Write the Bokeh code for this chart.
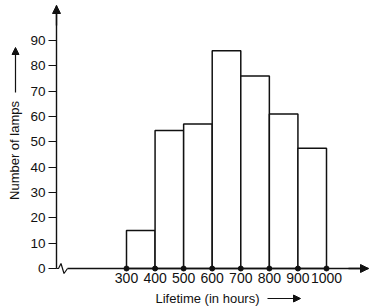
import math
from bokeh.plotting import figure
from bokeh.models import Arrow, NormalHead, Label, FixedTicker, Range1d
from bokeh.embed import file_html
from bokeh.resources import INLINE

# ---- data ----
bin_edges = [300, 400, 500, 600, 700, 800, 900, 1000]
lamp_counts = [15, 54.5, 57, 86, 76, 61, 47.5]
y_ticks = [0, 10, 20, 30, 40, 50, 60, 70, 80, 90]
x_ticks = [300, 400, 500, 600, 700, 800, 900, 1000]
x_title = "Lifetime (in hours)"
y_title = "Number of lamps"

# ---- layout constants (frame covers the whole canvas) ----
W, H = 378, 308
PXU_X = 200 / 700.0      # px per data unit along x
PXU_Y = 228 / 90.0       # px per data unit along y
ORIGIN_PX = (56, 268)    # where the axes meet, in canvas px
AX_X = 55                # data x at which the y axis stands
X0 = AX_X - ORIGIN_PX[0] / PXU_X
X1 = X0 + W / PXU_X
Y0 = -(H - ORIGIN_PX[1]) / PXU_Y
Y1 = ORIGIN_PX[1] / PXU_Y


def dx(px):  # canvas px -> data x
    return X0 + px / PXU_X


def dy(py):  # canvas px (from top) -> data y
    return (ORIGIN_PX[1] - py) / PXU_Y


X_TIP = dx(368)
Y_TIP = dy(5)

INK = "#111111"
FONT = "Liberation Sans"

p = figure(width=W, height=H, x_range=Range1d(X0, X1), y_range=Range1d(Y0, Y1),
           output_backend="svg", toolbar_location=None, min_border=0)
p.outline_line_color = None
p.grid.visible = False
p.background_fill_color = "white"
p.border_fill_color = "white"

# bars
p.quad(left=bin_edges[:-1], right=bin_edges[1:], bottom=0, top=lamp_counts,
       fill_color="white", line_color=INK, line_width=1.5)

# axis break zigzag near origin
zz_px = [56, 58, 60.5, 63.5, 67]
zz_py = [268, 268, 263, 273, 268]
p.line(x=[dx(v) for v in zz_px], y=[dy(v) for v in zz_py],
       line_color=INK, line_width=1.2)

# dots on x axis at class limits
p.scatter(x=bin_edges, y=[0] * len(bin_edges), size=5, color=INK)

# x axis
xa = p.xaxis[0]
xa.fixed_location = 0
xa.bounds = (dx(67), X_TIP)
xa.ticker = FixedTicker(ticks=x_ticks)
xa.major_tick_in = 0
xa.major_tick_out = 0
xa.minor_tick_line_color = None
xa.axis_line_width = 1.4
xa.axis_line_color = INK
xa.major_label_text_font_size = "14px"
xa.major_label_text_font = FONT
xa.major_label_text_color = INK
xa.major_label_standoff = 4

# y axis
ya = p.yaxis[0]
ya.fixed_location = AX_X
ya.bounds = (0, Y_TIP)
ya.ticker = FixedTicker(ticks=y_ticks)
ya.major_tick_in = 0
ya.major_tick_out = 8
ya.major_tick_line_width = 1.2
ya.major_tick_line_color = INK
ya.minor_tick_line_color = None
ya.axis_line_width = 1.4
ya.axis_line_color = INK
ya.major_label_text_font_size = "13.5px"
ya.major_label_text_font = FONT
ya.major_label_text_color = INK
ya.major_label_standoff = 3

# axis arrow heads
p.add_layout(Arrow(end=NormalHead(size=8, fill_color=INK, line_color=INK),
                   x_start=dx(348), y_start=0, x_end=X_TIP, y_end=0,
                   line_width=1.4, line_color=INK))
p.add_layout(Arrow(end=NormalHead(size=8, fill_color=INK, line_color=INK),
                   x_start=AX_X, y_start=dy(25), x_end=AX_X, y_end=Y_TIP,
                   line_width=1.4, line_color=INK))

# y title with arrow
p.add_layout(Label(x=dx(14), y=dy(150), text=y_title,
                   angle=math.pi / 2, text_align="center", text_baseline="middle",
                   text_font=FONT, text_font_size="13px", text_color=INK))
p.add_layout(Arrow(end=NormalHead(size=7, fill_color=INK, line_color=INK),
                   x_start=dx(15), y_start=dy(92), x_end=dx(15), y_end=dy(47),
                   line_width=1.2, line_color=INK))

# x title with arrow
p.add_layout(Label(x=dx(207), y=dy(298), text=x_title,
                   text_align="center", text_baseline="middle",
                   text_font=FONT, text_font_size="13px", text_color=INK))
p.add_layout(Arrow(end=NormalHead(size=7, fill_color=INK, line_color=INK),
                   x_start=dx(267), y_start=dy(298), x_end=dx(300), y_end=dy(298),
                   line_width=1.2, line_color=INK))

open("out.html", "w").write(file_html(p, INLINE))
